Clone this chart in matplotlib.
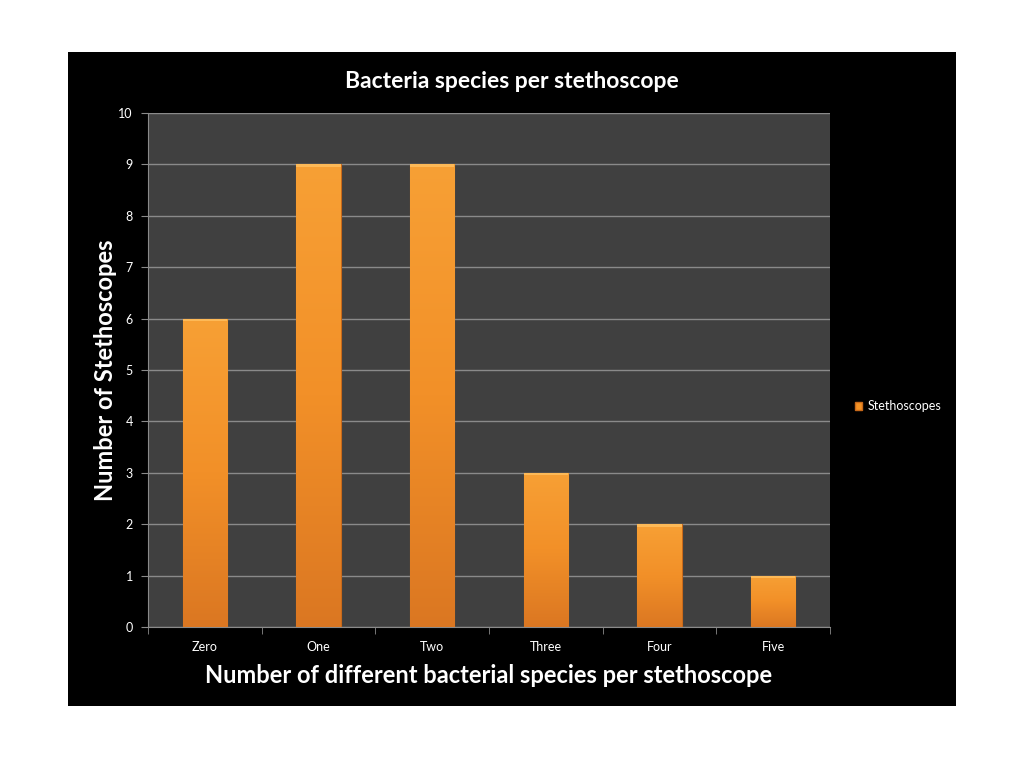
import matplotlib.pyplot as plt
import numpy as np
from matplotlib.patches import Rectangle
from matplotlib.colors import LinearSegmentedColormap

categories = ['Zero', 'One', 'Two', 'Three', 'Four', 'Five']
stethoscopes = [6, 9, 9, 3, 2, 1]
y_ticks = list(range(0, 11))

plt.rcParams['font.family'] = ['Lato', 'DejaVu Sans']

fig = plt.figure(figsize=(10.24, 7.68), dpi=100)
fig.patch.set_facecolor('white')

# black slide panel, behind the axes
fig.patches.append(Rectangle((68 / 1024, 1 - 706 / 768), 888 / 1024, 654 / 768,
                             transform=fig.transFigure, facecolor='black',
                             edgecolor='none', zorder=-10))

ax = fig.add_axes([148 / 1024, 1 - 627 / 768, 682 / 1024, 514 / 768])
ax.set_facecolor('#404040')

x = np.arange(len(categories))
bars = ax.bar(x, stethoscopes, width=0.39, color='#F39225', edgecolor='#C8691A',
              linewidth=0.8, zorder=3, label='Stethoscopes')

# orange gradient inside each bar
grad = np.linspace(0, 1, 256).reshape(-1, 1)
cmap = LinearSegmentedColormap.from_list('orng', ['#DB7722', '#F29028', '#F7A035'])
for b in bars:
    bx, bw, bh = b.get_x(), b.get_width(), b.get_height()
    im = ax.imshow(grad, extent=[bx, bx + bw, 0, bh], origin='lower', cmap=cmap,
                   aspect='auto', zorder=3.5)
    im.set_clip_path(b)
    # lighter top bevel
    ax.add_patch(Rectangle((bx, bh - 0.05), bw, 0.05, facecolor='#FFC060',
                           edgecolor='none', zorder=4, alpha=0.8))

ax.set_xlim(-0.5, len(categories) - 0.5)
ax.set_ylim(0, 10)
ax.set_yticks(y_ticks)
ax.set_xticks(x)
ax.set_xticklabels(categories)
ax.set_xticks(np.arange(-0.5, len(categories), 1), minor=True)
ax.tick_params(axis='x', which='major', length=0, colors='white', labelsize=9, pad=10)
ax.tick_params(axis='x', which='minor', length=5, color='#8a8a8a', direction='out')
ax.tick_params(axis='y', length=5, color='#8a8a8a', labelcolor='white', labelsize=9, pad=6)
ax.yaxis.grid(True, color='#8a8a8a', linewidth=1)
ax.set_axisbelow(True)
for s in ['top', 'right']:
    ax.spines[s].set_visible(False)
for s in ['left', 'bottom']:
    ax.spines[s].set_color('#8a8a8a')

fig.text(512 / 1024, 1 - 81 / 768, 'Bacteria species per stethoscope', color='white',
         fontsize=16.5, fontweight='bold', ha='center', va='center')
ax.set_xlabel('Number of different bacterial species per stethoscope', color='white',
              fontsize=17, fontweight='bold', labelpad=8)
ax.set_ylabel('Number of Stethoscopes', color='white', fontsize=17,
              fontweight='bold', labelpad=1)

leg = ax.legend(handles=[Rectangle((0, 0), 1, 1, facecolor='#F39225', edgecolor='#C8691A')],
                labels=['Stethoscopes'], loc='center left',
                bbox_to_anchor=(1.02, 0.43), frameon=False, fontsize=9,
                handlelength=0.6, handleheight=0.6, handletextpad=0.4)
for t in leg.get_texts():
    t.set_color('white')

fig.savefig('out.png', dpi=100)
